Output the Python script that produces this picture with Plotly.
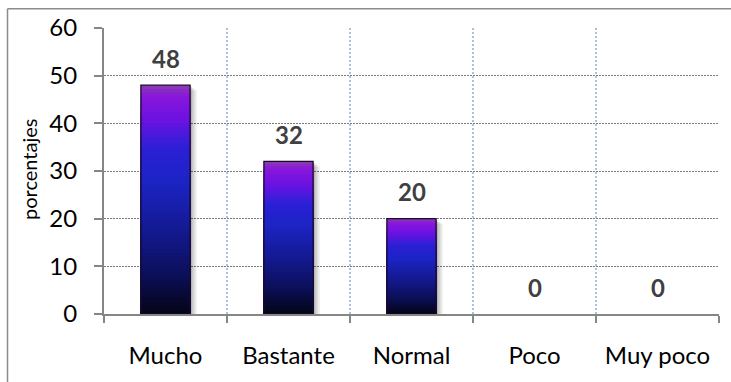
import plotly.graph_objects as go

categories = ["Mucho", "Bastante", "Normal", "Poco", "Muy poco"]
values = [48, 32, 20, 0, 0]
y_ticks = [0, 10, 20, 30, 40, 50, 60]

FONT = "Lato"
BAR_W = 0.4
N_SEG = 60

# gradient stops (fraction from top of bar, rgb)
stops = [
    (0.00, (140, 62, 176)),
    (0.05, (136, 22, 220)),
    (0.15, (108, 18, 226)),
    (0.28, (42, 32, 214)),
    (0.42, (28, 36, 196)),
    (0.62, (20, 26, 148)),
    (0.82, (12, 16, 92)),
    (1.00, (4, 4, 22)),
]


def grad(t):
    for (t0, c0), (t1, c1) in zip(stops[:-1], stops[1:]):
        if t0 <= t <= t1:
            f = (t - t0) / (t1 - t0) if t1 > t0 else 0
            c = [round(a + (b - a) * f) for a, b in zip(c0, c1)]
            return "rgb(%d,%d,%d)" % tuple(c)
    return "rgb(%d,%d,%d)" % stops[-1][1]


fig = go.Figure()

# shadow layers
for k, alpha in [(3, 0.08), (2, 0.10), (1, 0.14)]:
    dx = k * 2.2 / 123.0
    fig.add_trace(go.Bar(
        x=categories, y=[max(v - 0.35 * k, 0) for v in values],
        width=BAR_W, offset=-BAR_W / 2 + dx,
        marker=dict(color="rgba(0,0,0,%g)" % alpha, line=dict(width=0)),
        hoverinfo="skip", showlegend=False,
    ))

# gradient: nested bars from 0, tallest first, each covering the lower part
for k in range(N_SEG):
    frac = (N_SEG - k) / N_SEG
    fig.add_trace(go.Bar(
        x=categories,
        y=[v * frac for v in values],
        width=BAR_W,
        marker=dict(color=grad((k + 0.5) / N_SEG), line=dict(width=0)),
        hoverinfo="skip", showlegend=False,
    ))

# outline
fig.add_trace(go.Bar(
    x=categories, y=values, width=BAR_W,
    marker=dict(color="rgba(0,0,0,0)",
                line=dict(color="#1a0a2a", width=[1.3 if v > 0 else 0 for v in values])),
    showlegend=False,
))

# data labels
for c, v in zip(categories, values):
    fig.add_annotation(x=c, y=v, yshift=27, text="<b>%d</b>" % v, showarrow=False,
                       yanchor="middle", font=dict(family=FONT, size=24, color="#404040"))

# y-axis title
fig.add_annotation(xref="paper", yref="paper", x=(29 - 104) / 615, y=(314 - 168) / 288,
                   xanchor="center", yanchor="middle",
                   text="porcentajes", textangle=-90, showarrow=False,
                   font=dict(family=FONT, size=20, color="#000000"))

# outer chart border (top and left visible)
bx = (7.5 - 104) / 615
by = (314 - 6.5) / 288
fig.add_shape(type="line", xref="paper", yref="paper",
              x0=bx, x1=1.2, y0=by, y1=by, line=dict(color="#8c8c8c", width=1.5))
fig.add_shape(type="line", xref="paper", yref="paper",
              x0=bx, x1=bx, y0=by, y1=-0.4, line=dict(color="#8c8c8c", width=1.5))

fig.update_layout(
    width=731, height=382,
    margin=dict(l=104, r=12, t=26, b=68),
    barmode="overlay", bargap=0.6,
    plot_bgcolor="white", paper_bgcolor="white",
    font=dict(family=FONT, color="#000000"),
    xaxis=dict(
        type="category", tickson="boundaries",
        ticks="outside", ticklen=7, tickwidth=2, tickcolor="#868686",
        showline=True, linecolor="#868686", linewidth=2,
        showgrid=True, gridcolor="#a9c0e6", gridwidth=2, griddash="2px,2px",
        tickfont=dict(family=FONT, size=24, color="#000000"),
        ticklabelstandoff=19,
    ),
    yaxis=dict(
        range=[0, 60], tickvals=y_ticks,
        ticks="outside", ticklen=8, tickwidth=2, tickcolor="#868686",
        showline=True, linecolor="#868686", linewidth=2,
        showgrid=True, gridcolor="#7a7a7a", gridwidth=1.2, griddash="1.5px,1.5px",
        zeroline=False,
        tickfont=dict(family=FONT, size=24, color="#000000"),
        ticklabelstandoff=12,
    ),
)

fig.write_html("out.html", config={"displayModeBar": False},
               post_script="document.body.style.margin='0';document.body.style.overflow='hidden';")
